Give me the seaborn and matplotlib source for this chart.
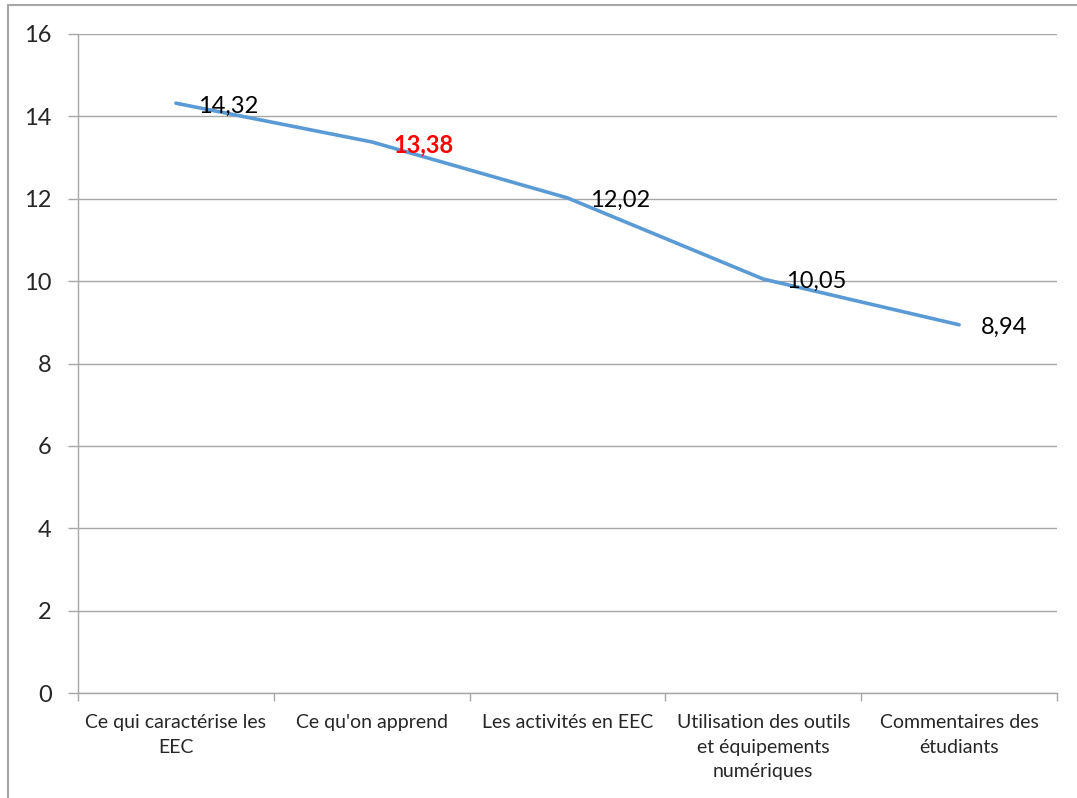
import matplotlib
matplotlib.use("Agg")
import matplotlib.pyplot as plt
import seaborn as sns
from matplotlib.lines import Line2D
from matplotlib.ticker import FixedLocator

categories = [
    "Ce qui caractérise les\nEEC",
    "Ce qu'on apprend",
    "Les activités en EEC",
    "Utilisation des outils\net équipements\nnumériques",
    "Commentaires des\nétudiants",
]
values = [14.32, 13.38, 12.02, 10.05, 8.94]
value_labels = ["14,32", "13,38", "12,02", "10,05", "8,94"]
label_colors = ["black", "red", "black", "black", "black"]
label_weights = ["normal", "bold", "normal", "normal", "normal"]

sns.set_style("white")
plt.rcParams["font.family"] = ["Lato", "DejaVu Sans"]

fig = plt.figure(figsize=(10.77, 7.98), dpi=100)
ax = fig.add_axes([78 / 1077, 1 - 693 / 798, (1057 - 78) / 1077, (693 - 34) / 798])

grid_col = "#A6A6A6"
sns.lineplot(x=categories, y=values, ax=ax, color="#5B9BD5", linewidth=2.6, sort=False)

ax.set_xlim(-0.5, len(categories) - 0.5)
ax.set_ylim(0, 16)
ax.set_yticks(range(0, 17, 2))
ax.yaxis.grid(True, color=grid_col, linewidth=1)
ax.set_axisbelow(True)

for side in ["top", "right"]:
    ax.spines[side].set_visible(False)
for side in ["left", "bottom"]:
    ax.spines[side].set_color(grid_col)
    ax.spines[side].set_linewidth(1)

ax.xaxis.set_minor_locator(FixedLocator([i - 0.5 for i in range(len(categories) + 1)]))
ax.tick_params(axis="x", which="major", length=0, pad=15, labelsize=14)
ax.tick_params(axis="x", which="minor", length=6, color=grid_col, width=1, direction="out")
ax.tick_params(axis="y", length=7, color=grid_col, width=1, direction="out", labelsize=17, pad=12)
ax.tick_params(bottom=True, left=True, which="both")
for lbl in ax.get_xticklabels():
    lbl.set_linespacing(1.55)
    lbl.set_verticalalignment("top")

for i, (v, t, c, w) in enumerate(zip(values, value_labels, label_colors, label_weights)):
    ax.annotate(t, (i, v), xytext=(16, -2), textcoords="offset points",
                ha="left", va="center", fontsize=17, color=c, fontweight=w)

ax.set_xlabel("")
ax.set_ylabel("")

# outer chart frame
fig.add_artist(Line2D([8 / 1077, 1], [1 - 4.5 / 798, 1 - 4.5 / 798], color=grid_col, linewidth=1.5))
fig.add_artist(Line2D([8 / 1077, 8 / 1077], [0, 1 - 4.5 / 798], color=grid_col, linewidth=1.5))

fig.savefig("out.png", dpi=100)
plt.close(fig)
